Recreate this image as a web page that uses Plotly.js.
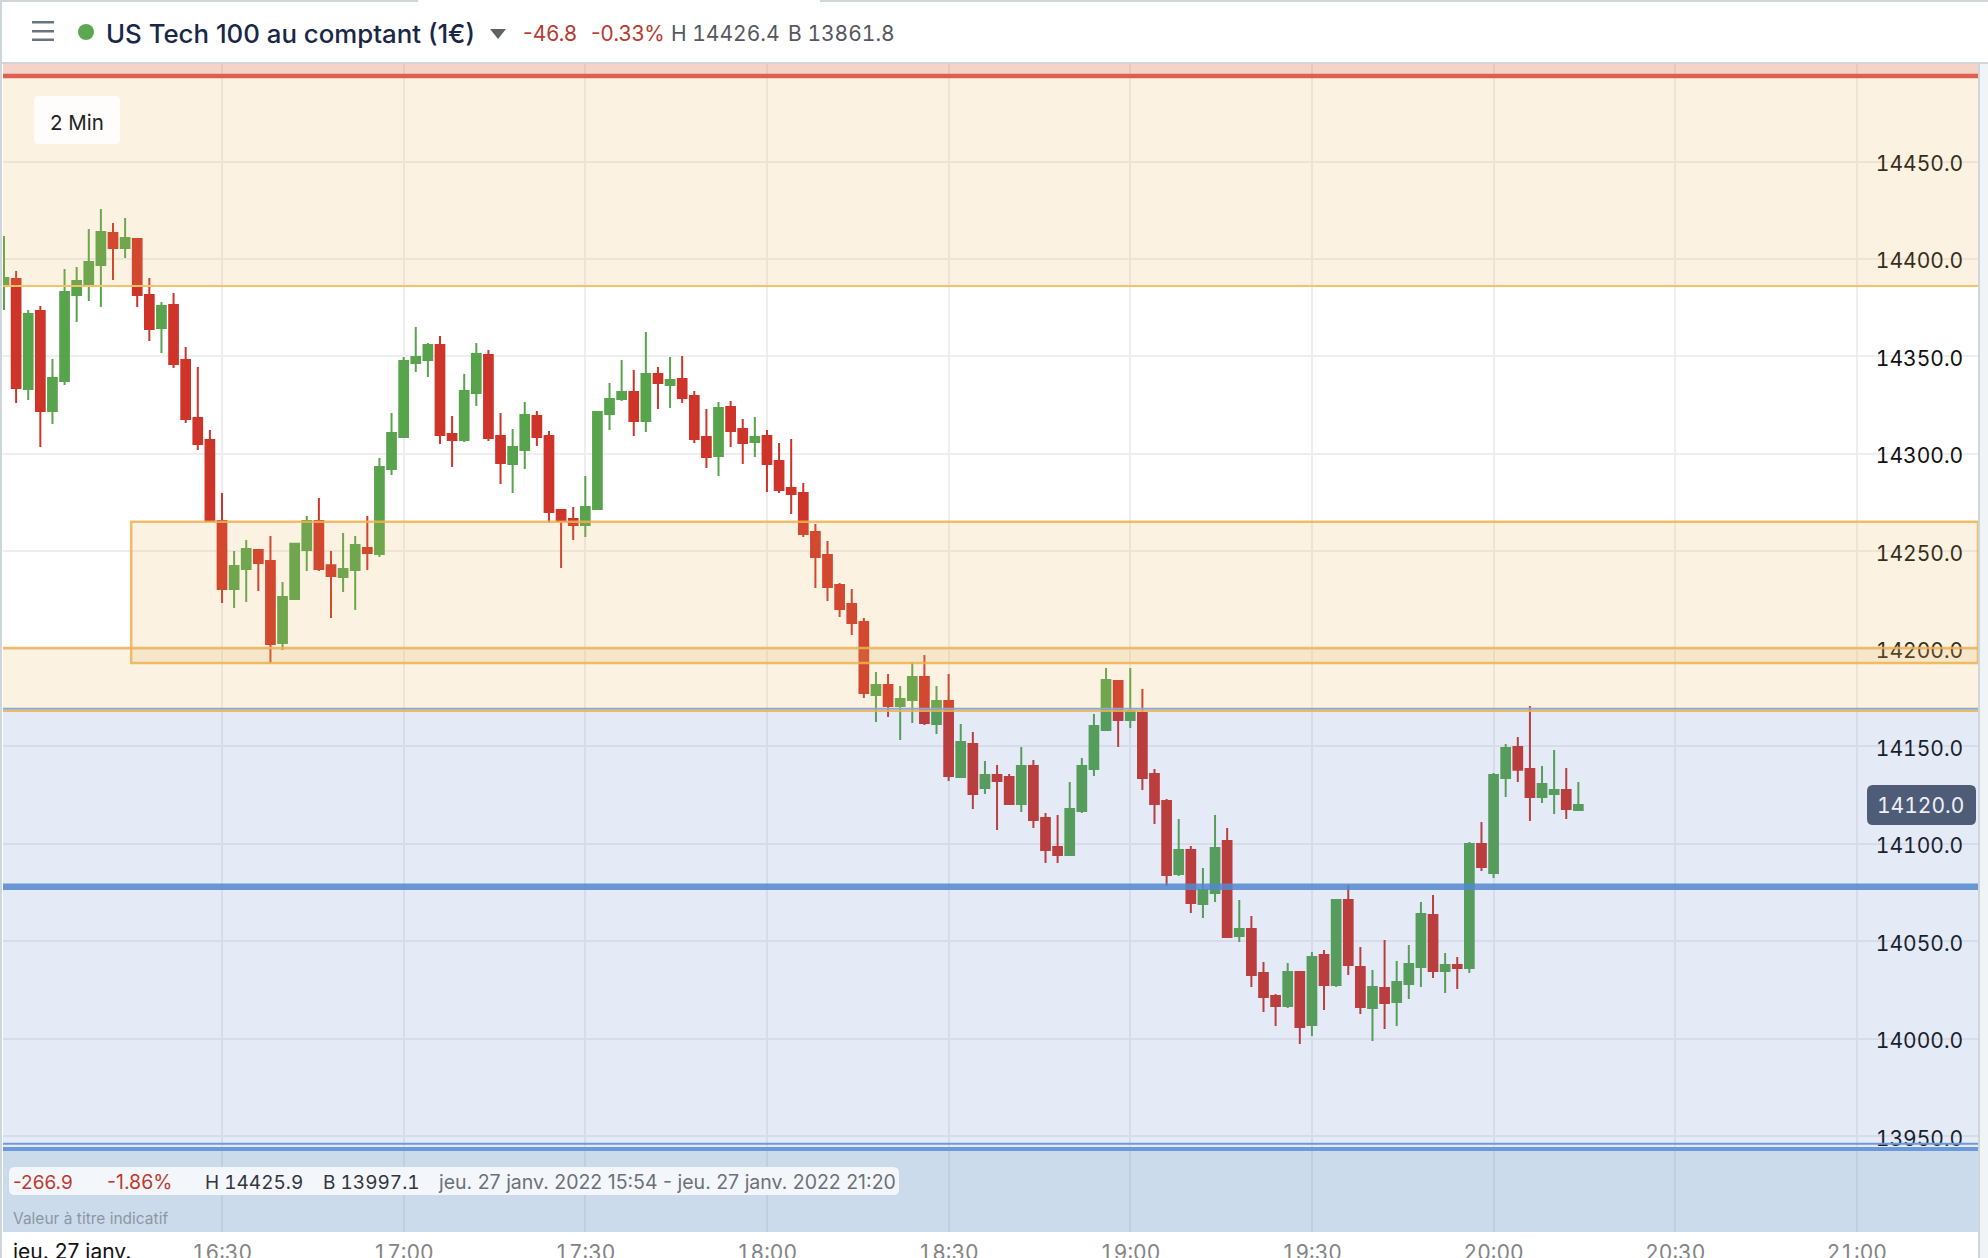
<!DOCTYPE html>
<html lang="fr">
<head>
<meta charset="utf-8">
<title>US Tech 100 au comptant</title>
<script src="https://cdn.plot.ly/plotly-3.0.1.min.js"></script>
<style>html,body{margin:0;padding:0;background:#fff;overflow:hidden}#chart{width:1988px;height:1258px}
.xtick text,.ytick text{font-variant-numeric:tabular-nums;font-feature-settings:"tnum" 1}</style>
</head>
<body>
<div id="chart"></div>
<script>
const day = "2022-01-27 ";
const times = [
"15:54","15:56","15:58",
"16:00","16:02","16:04","16:06","16:08","16:10","16:12","16:14","16:16","16:18","16:20","16:22","16:24","16:26","16:28","16:30","16:32","16:34","16:36","16:38","16:40","16:42","16:44","16:46","16:48","16:50","16:52","16:54","16:56","16:58",
"17:00","17:02","17:04","17:06","17:08","17:10","17:12","17:14","17:16","17:18","17:20","17:22","17:24","17:26","17:28","17:30","17:32","17:34","17:36","17:38","17:40","17:42","17:44","17:46","17:48","17:50","17:52","17:54","17:56","17:58",
"18:00","18:02","18:04","18:06","18:08","18:10","18:12","18:14","18:16","18:18","18:20","18:22","18:24","18:26","18:28","18:30","18:32","18:34","18:36","18:38","18:40","18:42","18:44","18:46","18:48","18:50","18:52","18:54","18:56","18:58",
"19:00","19:02","19:04","19:06","19:08","19:10","19:12","19:14","19:16","19:18","19:20","19:22","19:24","19:26","19:28","19:30","19:32","19:34","19:36","19:38","19:40","19:42","19:44","19:46","19:48","19:50","19:52","19:54","19:56","19:58",
"20:00","20:02","20:04","20:06","20:08","20:10","20:12","20:14"];
const openV = [
14386.2,14389.7,14333.3,14373.3,14322.1,14337.4,14381.5,14387.2,14396.9,14413.3,
14405.6,14410.3,14381.5,14364.6,14376.4,14348.2,14318.5,14307.2,14265.6,14230.8,
14241.0,14250.8,14245.1,14203.1,14225.6,14250.8,14265.6,14243.0,14236.9,14240.5,
14251.8,14248.7,14292.3,14308.7,14346.7,14348.2,14355.9,14310.3,14307.2,14331.3,
14350.8,14309.2,14294.9,14302.1,14319.5,14309.2,14271.3,14266.7,14263.6,14271.8,
14320.5,14328.2,14331.8,14316.9,14341.0,14335.4,14338.5,14329.7,14308.7,14299.0,
14324.1,14312.8,14306.1,14309.2,14296.4,14282.6,14280.0,14260.0,14248.2,14232.8,
14223.1,14213.8,14176.4,14181.5,14170.8,14173.8,14185.6,14161.5,14173.3,14134.3,
14151.3,14128.7,14135.4,14134.3,14120.5,14140.0,14113.3,14098.4,14094.3,14116.9,
14138.4,14158.4,14183.6,14163.6,14167.2,14135.9,14122.0,14084.6,14096.9,14069.2,
14074.9,14101.5,14052.8,14056.4,14033.8,14022.0,14016.9,14034.3,14007.2,14043.0,
14027.7,14071.3,14036.9,14015.9,14026.1,14019.0,14028.2,14036.9,14063.6,14034.9,
14037.9,14036.4,14100.0,14085.1,14133.8,14149.7,14138.5,14124.1,14125.6,14127.7,
14117.4];
const closeV = [
14390.3,14333.8,14371.8,14322.1,14339.0,14383.1,14388.7,14398.5,14413.9,14405.6,
14410.8,14381.5,14364.1,14375.9,14346.2,14317.9,14305.1,14265.6,14230.8,14242.6,
14251.3,14244.1,14202.6,14226.7,14253.9,14265.6,14241.0,14237.4,14241.0,14253.3,
14249.2,14293.3,14310.8,14347.7,14349.7,14355.9,14309.7,14307.2,14332.3,14351.3,
14308.2,14295.4,14303.6,14320.0,14308.7,14270.3,14265.6,14263.6,14272.8,14321.5,
14328.2,14331.8,14316.9,14341.0,14336.4,14338.0,14328.7,14307.7,14298.5,14323.6,
14311.8,14305.6,14308.7,14294.9,14281.5,14279.5,14259.0,14247.2,14231.8,14220.5,
14213.3,14177.4,14181.5,14170.8,14174.4,14185.6,14162.0,14173.3,14134.9,14152.3,
14125.6,14135.4,14132.3,14120.5,14140.0,14112.3,14096.9,14094.3,14117.9,14140.0,
14160.5,14184.1,14163.6,14168.2,14133.8,14120.5,14084.1,14096.9,14069.7,14076.4,
14097.9,14052.3,14056.4,14032.8,14021.5,14016.9,14034.3,14006.1,14042.0,14027.7,
14071.3,14037.9,14016.4,14026.7,14018.5,14029.2,14038.5,14064.1,14034.9,14037.9,
14036.4,14100.0,14088.2,14135.4,14149.2,14138.0,14124.1,14130.8,14127.7,14117.9,
14120.0];
const highV = [
14411.8,14393.8,14373.8,14375.9,14348.7,14394.9,14395.9,14415.4,14425.6,14418.5,
14421.0,14410.3,14390.3,14378.0,14382.6,14354.9,14344.6,14312.3,14280.0,14250.3,
14255.9,14250.8,14258.0,14234.4,14253.9,14268.2,14277.4,14250.3,14259.5,14258.0,
14268.2,14297.9,14321.0,14349.7,14365.1,14356.9,14360.5,14319.5,14341.0,14356.9,
14353.3,14321.0,14312.8,14326.7,14322.0,14311.8,14271.3,14272.8,14288.7,14322.0,
14336.4,14348.2,14343.1,14362.6,14344.6,14349.7,14350.2,14332.3,14323.1,14326.7,
14327.2,14318.0,14319.0,14312.3,14305.6,14307.7,14285.1,14264.1,14255.4,14233.8,
14230.8,14215.9,14188.2,14187.2,14181.0,14193.3,14196.9,14181.0,14187.2,14161.5,
14157.4,14142.5,14140.5,14135.9,14149.7,14143.1,14115.9,14114.9,14131.8,14144.1,
14166.7,14190.2,14183.6,14190.2,14179.5,14138.4,14123.1,14112.8,14098.9,14087.7,
14114.9,14108.2,14071.3,14063.0,14039.5,14023.1,14039.0,14034.9,14044.6,14045.6,
14071.8,14079.0,14047.2,14035.4,14050.8,14040.0,14048.2,14070.3,14073.8,14044.1,
14042.0,14101.0,14111.3,14136.4,14151.3,14154.9,14170.8,14140.0,14148.2,14139.0,
14131.8];
const lowV = [
14373.8,14326.2,14327.7,14303.6,14315.4,14335.4,14367.7,14378.5,14375.4,14389.2,
14400.5,14375.4,14358.0,14351.8,14344.1,14315.9,14302.0,14265.6,14223.6,14221.0,
14224.1,14229.7,14192.8,14199.5,14225.1,14240.0,14240.0,14215.9,14229.2,14220.0,
14240.5,14247.2,14289.2,14308.7,14342.0,14339.5,14305.1,14293.3,14306.2,14324.6,
14306.7,14284.6,14280.0,14292.3,14304.1,14264.6,14241.5,14255.9,14257.4,14271.8,
14312.3,14327.2,14309.2,14311.3,14323.1,14323.6,14326.1,14305.6,14292.8,14288.7,
14303.6,14294.9,14298.5,14280.5,14280.0,14269.2,14257.4,14231.3,14224.6,14216.4,
14207.2,14174.9,14162.6,14165.1,14153.3,14162.0,14161.0,14156.4,14132.3,14134.3,
14117.9,14125.6,14107.2,14120.0,14116.4,14108.2,14090.2,14090.2,14094.3,14115.9,
14134.9,14158.4,14149.7,14159.5,14127.7,14110.2,14078.4,14083.6,14064.6,14062.0,
14070.2,14051.8,14049.7,14026.7,14013.8,14006.7,14015.9,13997.4,14001.5,14014.9,
14026.7,14032.8,14012.8,13999.0,14005.1,14006.7,14020.5,14026.7,14031.3,14023.6,
14025.6,14033.8,14086.2,14082.6,14124.1,14131.8,14111.8,14121.0,14115.4,14112.8,
14116.9];
const priceTicks = [13950,14000,14050,14100,14150,14200,14250,14300,14350,14400,14450];
const timeTicks = ["16:30","17:00","17:30","18:00","18:30","19:00","19:30","20:00","20:30","21:00"];
const redLevel = 14493.8, orangeTopLow = 14386.2;
const zoneTop = 14265.3, zoneBottom = 14192.8, zoneStart = "16:15";
const bandTop = 14200.5, bandBottom = 14168.2;
const blueTop = 14168.7, blueMid = 14078.1, blueLow1 = 13946.2, blueLow2 = 13943.6;
const yMin = 13901, yMax = 14500;
const lastPrice = "14120.0";

// page-pixel helpers for the chrome around the plot
const L = 3, R = 1978, T = 64, B = 1232;
const px = x => (x - L) / (R - L);
const py = y => (B - y) / (B - T);
const orange = "rgba(232,180,81,0.17)", blue = "rgba(78,124,196,0.15)";
const orangeLine = "rgba(238,178,84,0.85)";
const band = (y0, y1, fill, x0) => ({type:"rect", layer:"above", xref:x0 ? "x" : "paper", yref:"y",
  x0:x0 || 0, x1:x0 ? day + "21:20" : 1, y0, y1, fillcolor:fill, line:{width:0}});
const hline = (y, color, width) => ({type:"line", layer:"above", xref:"paper", yref:"y", x0:0, x1:1, y0:y, y1:y, line:{color, width}});
const box = (x0, y0, x1, y1, fill) => ({type:"rect", layer:"above", xref:"paper", yref:"paper",
  x0:px(x0), x1:px(x1), y0:py(y1), y1:py(y0), fillcolor:fill, line:{width:0}});
function rounded(x0, y0, x1, y1, r, fill) {
  const X = v => px(v), Y = v => py(v);
  const d = `M${X(x0+r)},${Y(y0)} L${X(x1-r)},${Y(y0)} Q${X(x1)},${Y(y0)} ${X(x1)},${Y(y0+r)} L${X(x1)},${Y(y1-r)} Q${X(x1)},${Y(y1)} ${X(x1-r)},${Y(y1)} L${X(x0+r)},${Y(y1)} Q${X(x0)},${Y(y1)} ${X(x0)},${Y(y1-r)} L${X(x0)},${Y(y0+r)} Q${X(x0)},${Y(y0)} ${X(x0+r)},${Y(y0)} Z`;
  return {type:"path", layer:"above", xref:"paper", yref:"paper", path:d, fillcolor:fill, line:{width:0}};
}
const label = (x, y, text, size, color, extra) => Object.assign({xref:"paper", yref:"paper", x:px(x), y:py(y),
  xanchor:"left", yanchor:"middle", showarrow:false, text, borderpad:0,
  font:{family:"Inter, sans-serif", size, color}}, extra || {});
const tnum = t => `<span style="font-variant-numeric:tabular-nums;font-feature-settings:'tnum' 1">${t}</span>`;

const shapes = [
  band(redLevel, yMax, "rgba(215,100,60,0.28)"),
  band(orangeTopLow, redLevel, orange),
  hline(orangeTopLow, "#f4c268", 2),
  hline(redLevel, "#dc5f50", 4.5),
  Object.assign(band(zoneBottom, zoneTop, orange, day + zoneStart), {line:{color:orangeLine, width:2.5}}),
  band(bandBottom, bandTop, orange),
  hline(bandTop, orangeLine, 2.5),
  band(yMin, blueTop, blue),
  hline(blueTop + 0.6, "#8fa8c8", 2),
  hline(bandBottom, orangeLine, 2),
  hline(blueMid, "rgba(84,136,206,0.85)", 6.5),
  band(yMin, blueLow2, "rgba(70,132,182,0.155)"),
  hline(blueLow1, "#6d9ad6", 2),
  hline(blueLow2, "#6d9ad6", 4),
  // chrome
  box(0, 0, 2, 1258, "#cdd6db"),
  box(0, 0, 418, 2, "#cfd6da"),
  box(820, 0, 1988, 2, "#cfd6da"),
  box(0, 62, 1988, 64, "#cfd6da"),
  box(1980, 64, 1988, 1258, "#f0f4f6"),
  box(1978, 64, 1980, 1258, "#cdd6db"),
  box(32, 21, 54, 23.5, "#6b7280"),
  box(32, 30, 54, 32.5, "#6b7280"),
  box(32, 38.5, 54, 41, "#6b7280"),
  {type:"circle", layer:"above", xref:"paper", yref:"paper", x0:px(78), x1:px(94), y0:py(40), y1:py(24), fillcolor:"#5aa84f", line:{width:0}},
  {type:"path", layer:"above", xref:"paper", yref:"paper", path:`M${px(490)},${py(29)} L${px(506)},${py(29)} L${px(498)},${py(39)} Z`, fillcolor:"#5f6368", line:{width:0}},
  rounded(34, 96, 120, 144, 4, "#fffdfb"),
  rounded(9, 1167, 899, 1195, 6, "#f3f7fc"),
  rounded(1867, 785, 1976, 825, 6, "#4e5c78")
];

const annotations = [
  label(105, 33, "US Tech 100 au comptant (1€)", 25.8, "#1a2747", {font:{family:"Inter, sans-serif", size:25.8, color:"#1a2747", weight:500}}),
  label(522, 33, "-46.8", 21, "#b83a30"),
  label(590, 33, "-0.33%", 20.8, "#b83a30"),
  label(670, 33, tnum("H 14426.4"), 21, "#55585f"),
  label(787, 33, tnum("B 13861.8"), 21, "#55585f"),
  label(49, 122, "2 Min", 20.5, "#222222"),
  label(12, 1182, "-266.9", 19, "#c0392f"),
  label(106, 1182, "-1.86%", 19.5, "#c0392f"),
  label(204, 1182, tnum("H 14425.9"), 19, "#33363c"),
  label(322, 1182, tnum("B 13997.1"), 19, "#33363c"),
  label(437, 1182, "jeu. 27 janv. 2022 15:54 - jeu. 27 janv. 2022 21:20", 19.5, "#6c7078"),
  label(12, 1218, "Valeur à titre indicatif", 15.5, "#8c96a3"),
  label(11, 1251, "jeu. 27 janv.", 21, "#111111"),
  label(1920.5, 805, tnum(lastPrice), 21, "#eef1f6", {xanchor:"center"})
];

const trace = {
  type:"candlestick",
  x: times.map(t => day + t),
  open: openV, high: highV, low: lowV, close: closeV,
  increasing:{line:{color:"#58a44c", width:2}, fillcolor:"#58a44c"},
  decreasing:{line:{color:"#ce3429", width:2}, fillcolor:"#ce3429"},
  whiskerwidth:0, hoverinfo:"skip", showlegend:false
};

const layout = {
  width:1988, height:1258,
  margin:{l:L, r:1988-R, t:T, b:1258-B, pad:0},
  paper_bgcolor:"#ffffff", plot_bgcolor:"#ffffff",
  showlegend:false, boxmode:"overlay", boxgap:0.28, boxgroupgap:0,
  font:{family:"Inter, sans-serif", color:"#111111"},
  xaxis:{type:"date", range:[day+"15:53:50", day+"21:20:00"], rangeslider:{visible:false},
    tickmode:"array", tickvals:timeTicks.map(t => day + t), ticktext:timeTicks,
    tickfont:{family:"Inter, sans-serif", size:21, color:"#848484"}, ticklabelstandoff:6,
    showgrid:true, gridcolor:"#eeeef0", gridwidth:2, zeroline:false, showline:false, ticks:"", automargin:false},
  yaxis:{range:[yMin, yMax], side:"right", ticklabelposition:"inside", tickmode:"array", tickvals:priceTicks,
    ticktext:priceTicks.map(v => v.toFixed(1)), tickfont:{family:"Inter, sans-serif", size:21, color:"#111111"},
    ticks:"inside", ticklen:16, tickcolor:"rgba(0,0,0,0)", ticklabelshift:2,
    showgrid:true, gridcolor:"#eeeef0", gridwidth:2, zeroline:false, showline:false, automargin:false},
  shapes, annotations
};

Plotly.newPlot("chart", [trace], layout, {displayModeBar:false, staticPlot:true});
</script>
</body>
</html>
